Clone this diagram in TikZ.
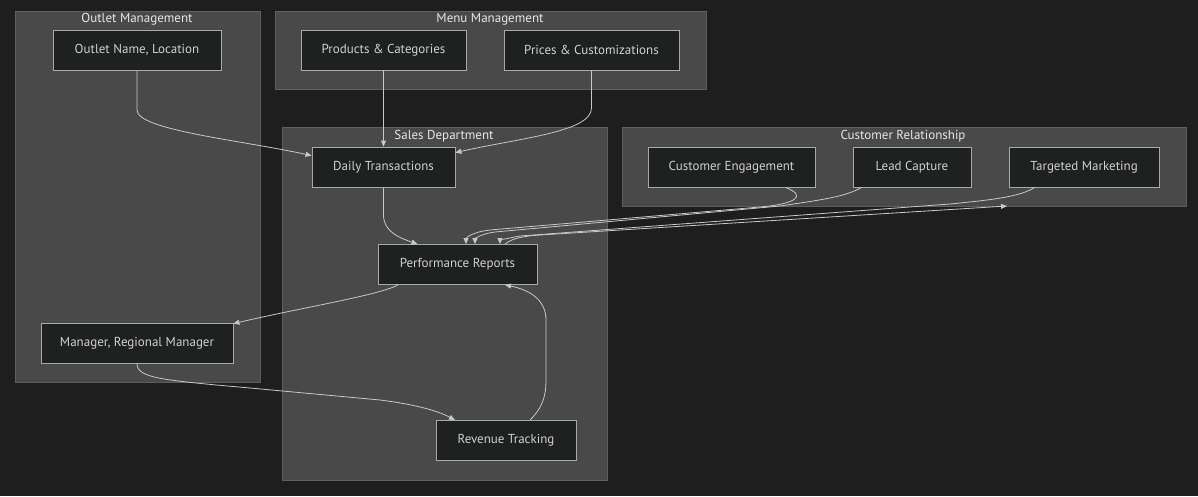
\documentclass[tikz,border=0pt]{standalone}
\usepackage{fontspec}
\setmainfont{PT Sans}
\usetikzlibrary{arrows.meta}

\definecolor{bgdark}{HTML}{1E1E1E}
\definecolor{clusterfill}{HTML}{484948}
\definecolor{clusterline}{HTML}{5E5E5E}
\definecolor{boxfill}{HTML}{1F2020}
\definecolor{boxline}{HTML}{A8A8A8}
\definecolor{boxtext}{HTML}{D0D0D0}
\definecolor{titletext}{HTML}{E6E6E6}
\definecolor{edgeline}{HTML}{C8C8C8}

\begin{document}
\begin{tikzpicture}[
    x=1pt, y=-1pt,
    font=\fontsize{13}{15}\selectfont,
    box/.style={draw=boxline, fill=boxfill, text=boxtext, minimum height=40pt, inner sep=0pt, line width=0.8pt},
    cluster/.style={draw=clusterline, fill=clusterfill, line width=0.8pt},
    title/.style={text=titletext},
    link/.style={draw=edgeline, line width=0.8pt, -{Triangle[length=6pt, width=5pt]}}
]

    % Background
    \fill[bgdark] (0,0) rectangle (1198,496);
    \useasboundingbox (0,0) rectangle (1198,496);

    % Clusters
    \draw[cluster] (15,11) rectangle (260,382);
    \draw[cluster] (275,11) rectangle (706,89);
    \draw[cluster] (282,127) rectangle (607,480);
    \draw[cluster] (622,127) rectangle (1186,206);

    \node[title] (outletTitle) at (137,19.5) {Outlet Management};
    \node[title] (menuTitle)   at (490,19.5) {Menu Management};
    \node[title] (salesTitle)  at (444,136.5) {Sales Department};
    \node[title] (custTitle)   at (903,136.5) {Customer Relationship};

    % Nodes
    \node[box, minimum width=168pt] (outlet)   at (137,50)   {Outlet Name, Location};
    \node[box, minimum width=165pt] (products) at (383.5,50) {Products \& Categories};
    \node[box, minimum width=175pt] (prices)   at (591.5,50) {Prices \& Customizations};
    \node[box, minimum width=143pt] (daily)    at (383.5,167) {Daily Transactions};
    \node[box, minimum width=167pt] (engage)   at (731.5,167) {Customer Engagement};
    \node[box, minimum width=118pt] (lead)     at (912,167)  {Lead Capture};
    \node[box, minimum width=150pt] (target)   at (1084,167) {Targeted Marketing};
    \node[box, minimum width=159pt] (perf)     at (457.5,264.5) {Performance Reports};
    \node[box, minimum width=192pt] (manager)  at (137,343)  {Manager, Regional Manager};
    \node[box, minimum width=140pt] (revenue)  at (506,440.5) {Revenue Tracking};

    \coordinate (custEdge) at (1007,206);

    % Into daily transactions
    \draw[link] (outlet.south) -- (137,110) .. controls (137,130) and (240,140) .. ([yshift=-9pt]daily.north west);
    \draw[link] (products.south) -- (daily.north);
    \draw[link] (prices.south) -- (591.5,108) .. controls (591.5,132) and (520,138) .. ([yshift=-6pt]daily.north east);

    % Into performance reports
    \draw[link] (daily.south) -- (383.5,215) .. controls (383.5,232) and (400,238) .. ([xshift=-40pt]perf.north);
    \draw[link] ([xshift=-30pt]engage.south east) .. controls (808,196) and (795,204) .. (760,207)
        -- (490,230) .. controls (472,232) and (466,238) .. ([xshift=8.5pt]perf.north);
    \draw[link] ([xshift=9pt]lead.south west) .. controls (845,197) and (820,200) .. (780,206)
        -- (495,232) .. controls (480,234) and (475,239) .. ([xshift=17.5pt]perf.north);
    \draw[link] ([xshift=26pt]target.south west) .. controls (1020,197) and (990,200) .. (950,204)
        -- (520,236) .. controls (508,238) and (500,241) .. ([xshift=42.5pt]perf.north);
    \draw[link] ([xshift=47.5pt]perf.north) .. controls (512,238) and (525,236) .. (540,235) -- (custEdge);

    % Reporting loop
    \draw[link] ([xshift=-59.5pt]perf.south) .. controls (380,295) and (300,308) .. ([yshift=-1pt]manager.north east);
    \draw[link] (manager.south) .. controls (137,378) and (160,380) .. (250,388)
        -- (380,400) .. controls (420,405) and (440,412) .. ([xshift=-51pt]revenue.north);
    \draw[link] ([xshift=24pt]revenue.north) .. controls (540,410) and (546,400) .. (546,380)
        -- (546,320) .. controls (546,300) and (530,290) .. ([xshift=47.5pt]perf.south);

\end{tikzpicture}
\end{document}
